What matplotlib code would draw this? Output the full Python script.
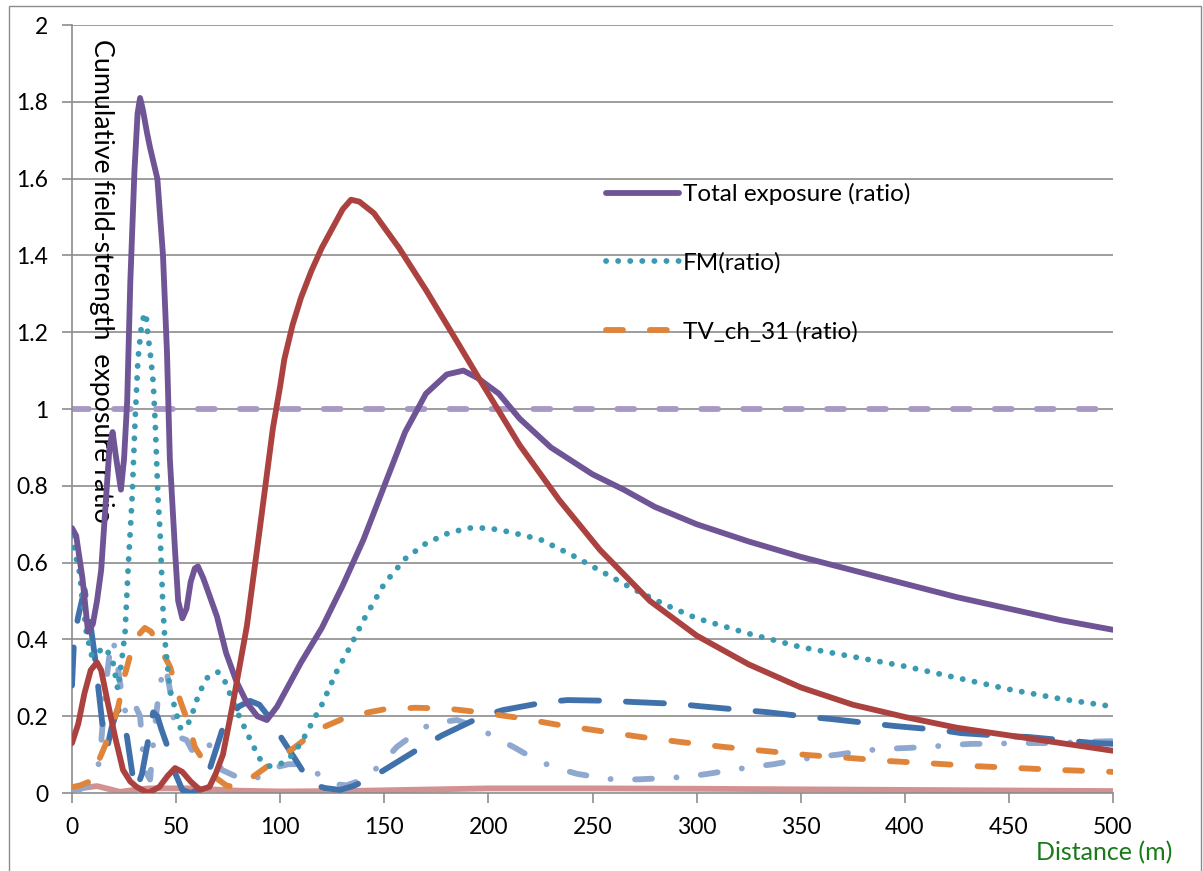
import matplotlib
matplotlib.use("Agg")
import matplotlib.pyplot as plt
from matplotlib.lines import Line2D
from matplotlib.patches import Rectangle

plt.rcParams['font.family'] = ['Lato', 'DejaVu Sans']
plt.rcParams['lines.scale_dashes'] = False

# Total exposure (ratio)
tot_x = [0, 2, 5, 7.7, 10, 12, 14, 16, 18, 19.5, 21, 23.5, 25, 26.5, 28, 30, 31.5, 32.7, 34, 36,
         37.5, 41, 43.7, 45.6, 47, 49.5, 51, 53, 55, 57, 59, 60.5, 63, 65, 69.6, 74, 79, 84, 89,
         93.6, 98.5, 104, 110, 120, 130, 140, 150, 160, 170, 180, 188, 195, 205, 215, 230, 250,
         265, 280, 300, 325, 350, 375, 400, 425, 450, 475, 500]
tot_y = [0.69, 0.67, 0.56, 0.42, 0.44, 0.50, 0.58, 0.74, 0.90, 0.94, 0.88, 0.79, 0.87, 1.02, 1.33,
         1.62, 1.77, 1.81, 1.78, 1.72, 1.68, 1.60, 1.40, 1.15, 0.87, 0.63, 0.50, 0.455, 0.48, 0.55,
         0.585, 0.59, 0.56, 0.53, 0.46, 0.365, 0.29, 0.235, 0.20, 0.19, 0.225, 0.28, 0.34, 0.43,
         0.54, 0.66, 0.80, 0.94, 1.04, 1.09, 1.10, 1.08, 1.04, 0.975, 0.90, 0.83, 0.79, 0.745,
         0.70, 0.655, 0.615, 0.58, 0.545, 0.51, 0.48, 0.45, 0.425]

# FM (ratio)
fm_x = [0, 1.4, 3.8, 4.8, 6, 7, 9.6, 12.5, 15, 17.5, 19.7, 22, 24, 25.5, 27, 28.8, 30.3, 31.7,
        33.6, 35.5, 36.5, 37.5, 39, 40, 41.3, 42.3, 43.7, 44.6, 47, 49.5, 52, 55, 58, 61, 65, 70,
        73.5, 79, 85.5, 90, 95, 100, 105, 110, 115, 120, 127, 133, 140, 150, 160, 170, 180, 190,
        200, 210, 225, 240, 255, 270, 285, 300, 325, 350, 375, 400, 425, 450, 475, 500]
fm_y = [0.67, 0.625, 0.57, 0.51, 0.46, 0.415, 0.355, 0.365, 0.38, 0.365, 0.34, 0.27, 0.35, 0.42,
        0.59, 0.76, 0.97, 1.13, 1.23, 1.25, 1.19, 1.15, 1.07, 0.96, 0.77, 0.68, 0.48, 0.40, 0.27,
        0.22, 0.17, 0.17, 0.21, 0.26, 0.30, 0.315, 0.29, 0.215, 0.14, 0.09, 0.07, 0.075, 0.095,
        0.13, 0.18, 0.23, 0.315, 0.375, 0.45, 0.545, 0.61, 0.65, 0.675, 0.69, 0.69, 0.68, 0.66,
        0.62, 0.575, 0.53, 0.49, 0.455, 0.415, 0.38, 0.355, 0.33, 0.30, 0.27, 0.245, 0.225]

# TV_ch_31 (ratio)
tv_x = [0, 4, 7.7, 10, 12.5, 16, 19, 22, 25.5, 30, 35, 38, 42, 47, 52, 56, 59, 63, 69, 74, 78,
        85, 94, 100, 106, 118, 133, 150, 165, 180, 193, 213, 233, 253, 273, 292, 313, 332, 353,
        374, 393, 413, 434, 454, 474, 500]
tv_y = [0.015, 0.02, 0.028, 0.05, 0.08, 0.125, 0.17, 0.22, 0.31, 0.40, 0.43, 0.42, 0.38, 0.33,
        0.24, 0.18, 0.12, 0.085, 0.04, 0.02, 0.015, 0.035, 0.07, 0.095, 0.115, 0.165, 0.20, 0.218,
        0.222, 0.22, 0.212, 0.197, 0.178, 0.162, 0.146, 0.133, 0.12, 0.11, 0.099, 0.091, 0.083,
        0.077, 0.07, 0.065, 0.06, 0.055]

# red series
red_x = [0, 3, 6, 9, 12, 14, 17, 20.7, 24.5, 28, 31, 36.5, 42, 46, 49.5, 53, 57, 61.5, 66, 69,
         72.5, 77, 84, 90, 96.5, 100, 102, 106, 110, 115, 120, 125, 130, 134, 138, 145, 157, 170,
         185, 196, 215, 234, 253.6, 277.6, 300, 325, 350, 375, 400, 425, 450, 475, 500]
red_y = [0.13, 0.18, 0.26, 0.32, 0.34, 0.32, 0.24, 0.146, 0.06, 0.03, 0.016, 0.0, 0.016, 0.045,
         0.065, 0.055, 0.03, 0.008, 0.016, 0.05, 0.10, 0.225, 0.435, 0.68, 0.95, 1.06, 1.13, 1.22,
         1.29, 1.36, 1.42, 1.47, 1.52, 1.545, 1.54, 1.51, 1.42, 1.31, 1.175, 1.075, 0.906, 0.763,
         0.633, 0.50, 0.41, 0.335, 0.275, 0.23, 0.198, 0.17, 0.15, 0.13, 0.11]

# dark blue long dash series
blue_x = [0, 1, 3, 6, 8.6, 11, 12.5, 15, 17, 19, 22, 24, 26.4, 29, 31, 33.6, 36, 39, 41, 43,
          45.6, 48.5, 53, 57, 61, 66, 72.5, 80, 85.5, 90, 95, 101, 107, 112, 117, 121.5, 128.7,
          135, 141.7, 150, 168, 177.7, 197, 207, 228, 238, 259, 269.5, 291, 301.6, 322, 333, 354,
          364, 385.7, 396, 417, 427, 449, 459, 481, 491, 500]
blue_y = [0.28, 0.40, 0.46, 0.53, 0.45, 0.355, 0.28, 0.16, 0.12, 0.17, 0.22, 0.20, 0.146, 0.05,
          0.01, 0.05, 0.12, 0.21, 0.20, 0.165, 0.125, 0.065, 0.008, 0.0, 0.01, 0.06, 0.17, 0.225,
          0.24, 0.23, 0.195, 0.14, 0.09, 0.047, 0.02, 0.013, 0.008, 0.018, 0.034, 0.06, 0.12, 0.15,
          0.20, 0.216, 0.237, 0.242, 0.24, 0.237, 0.232, 0.226, 0.216, 0.211, 0.198, 0.193, 0.18,
          0.174, 0.164, 0.156, 0.148, 0.146, 0.135, 0.13, 0.128]

# light blue dash-dot series
lblue_x = [0, 4, 8, 11, 12.5, 14, 16, 18, 19.7, 21.5, 23, 25, 27, 29, 31, 32.7, 34, 36, 37.5,
           39, 41, 43, 45, 47, 49.5, 51, 55, 57.6, 61, 65, 68, 72, 76, 82, 89, 96.5, 104, 110,
           114, 118, 122.5, 128, 132, 137, 141.7, 149, 156, 165.7, 173, 185, 195, 203, 213, 223,
           231, 242.5, 253.6, 262, 274, 285, 295, 305.5, 317, 326.6, 337, 348, 358, 368, 380,
           390, 400, 411, 422, 432, 443, 453, 463, 475, 485, 500]
lblue_y = [0.01, 0.01, 0.02, 0.04, 0.065, 0.13, 0.27, 0.36, 0.40, 0.35, 0.29, 0.22, 0.20, 0.19,
           0.22, 0.20, 0.11, 0.05, 0.035, 0.13, 0.23, 0.30, 0.33, 0.27, 0.165, 0.146, 0.138,
           0.112, 0.12, 0.14, 0.094, 0.06, 0.05, 0.035, 0.04, 0.065, 0.075, 0.075, 0.068, 0.05,
           0.034, 0.022, 0.02, 0.03, 0.042, 0.078, 0.12, 0.159, 0.182, 0.19, 0.169, 0.146, 0.117,
           0.086, 0.068, 0.05, 0.04, 0.034, 0.036, 0.039, 0.042, 0.05, 0.06, 0.068, 0.075, 0.086,
           0.094, 0.10, 0.11, 0.115, 0.117, 0.12, 0.125, 0.128, 0.128, 0.13, 0.13, 0.13, 0.133,
           0.135]

# pink series near zero
pink_x = [0, 5, 12, 18, 23, 30, 37, 45, 58, 80, 100, 130, 200, 250, 300, 400, 500]
pink_y = [0.008, 0.013, 0.018, 0.01, 0.003, 0.008, 0.012, 0.012, 0.012, 0.006, 0.004, 0.005,
          0.012, 0.012, 0.011, 0.008, 0.005]

# reference level
ref_x = [0, 500]
ref_y = [1.0, 1.0]

yticks = [0, 0.2, 0.4, 0.6, 0.8, 1, 1.2, 1.4, 1.6, 1.8, 2]
ytick_labels = ['0', '0.2', '0.4', '0.6', '0.8', '1', '1.2', '1.4', '1.6', '1.8', '2']
xticks = [0, 50, 100, 150, 200, 250, 300, 350, 400, 450, 500]

fig = plt.figure(figsize=(12.03, 8.71), dpi=100)
ax = fig.add_axes([72/1203, 1-793/871, (1113-72)/1203, (793-25)/871])

lw = 4.2
grid_c = '#8c8c8c'
for yv in yticks[1:]:
    ax.axhline(yv, color=grid_c, lw=1.2, zorder=1)

common = dict(lw=lw, solid_capstyle='round', dash_capstyle='round', solid_joinstyle='round')
ax.plot(ref_x, ref_y, color='#a898c4', dashes=(12.2, 18), zorder=2, **common)
ax.plot(pink_x, pink_y, color='#d39292', zorder=2, **common)
ax.plot(lblue_x, lblue_y, color='#8fa8d0', dashes=(12.2, 17.6, 0.1, 17.6), zorder=3, **common)
ax.plot(blue_x, blue_y, color='#4071ab', dashes=(27.4, 19.4), zorder=4, **common)
ax.plot(tv_x, tv_y, color='#e0843a', dashes=(12.2, 19.4), zorder=5, **common)
ax.plot(fm_x, fm_y, color='#3a9ab2', dashes=(0.1, 8.6), zorder=6, **common)
ax.plot(tot_x, tot_y, color='#6f5596', zorder=7, **common)
ax.plot(red_x, red_y, color='#ab423f', zorder=8, **common)

ax.set_xlim(0, 500)
ax.set_ylim(0, 2)
ax.set_yticks(yticks)
ax.set_yticklabels(ytick_labels)
ax.set_xticks(xticks)
for s in ['top', 'right']:
    ax.spines[s].set_visible(False)
for s in ['left', 'bottom']:
    ax.spines[s].set_color(grid_c)
    ax.spines[s].set_linewidth(1.2)
ax.tick_params(axis='both', direction='out', length=7, width=1.2, color=grid_c,
               labelsize=16.5, labelcolor='black')
ax.tick_params(axis='y', pad=10)
ax.tick_params(axis='x', pad=10)

ax.text(0.016, 0.982, 'Cumulative field-strength  exposure ratio', transform=ax.transAxes,
        rotation=270, ha='left', va='top', fontsize=19.3)
fig.text(1104/1203, 1-853/871, 'Distance (m)', color='#1a7a1a', fontsize=18,
         ha='center', va='center')

handles = [
    Line2D([], [], color='#6f5596', **common),
    Line2D([], [], color='#3a9ab2', dashes=(0.1, 8.6), **common),
    Line2D([], [], color='#e0843a', dashes=(12.2, 19.4), **common),
]
labels = ['Total exposure (ratio)', 'FM(ratio)', 'TV_ch_31 (ratio)']
ax.legend(handles, labels, loc='upper left', bbox_to_anchor=((606-72)/1041, (793-183)/768),
          frameon=False, fontsize=17.5, handlelength=3.0, handletextpad=0.15, labelspacing=1.95,
          borderpad=0, borderaxespad=0)

fig.patches.append(Rectangle((9/1203, -0.01), (1201-9)/1203, 1.01-6/871, transform=fig.transFigure,
                             fill=False, edgecolor='#8c8c8c', lw=1.0))

fig.savefig('out.png', dpi=100)
